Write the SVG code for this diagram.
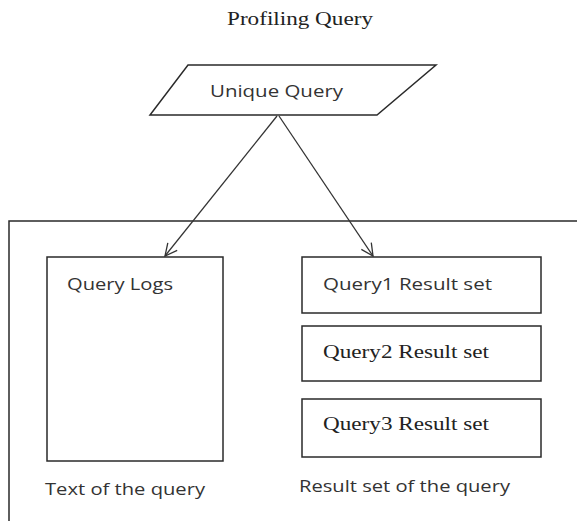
<svg xmlns="http://www.w3.org/2000/svg" width="577" height="521" viewBox="0 0 577 521">
<defs>
<style>
.box{fill:none;stroke:#2a2a2a;stroke-width:1.5}
.sans{font-family:"Open Sans","Liberation Sans",sans-serif;font-size:17px;fill:#333}
.serif{font-family:"Liberation Serif","Times New Roman",serif;font-size:19px;fill:#222}
.conn{fill:none;stroke:#333;stroke-width:1.3}
</style>
<marker id="arr" viewBox="0 0 14 14" refX="13" refY="7" markerWidth="14" markerHeight="14" markerUnits="userSpaceOnUse" orient="auto">
<polyline points="1,1 13,7 1,13" fill="none" stroke="#333" stroke-width="1.3"/>
</marker>
</defs>
<rect width="577" height="521" fill="#fff"/>
<text x="300" y="25" text-anchor="middle" class="serif" font-size="21" textLength="146" lengthAdjust="spacingAndGlyphs">Profiling Query</text>
<g id="container"><path class="box" d="M9,530 V221 H580"/></g>
<g id="unique-query">
<polygon class="box" points="188,65 436,65 377,115 150,115"/>
<text x="210" y="97" class="sans" textLength="133" lengthAdjust="spacingAndGlyphs">Unique Query</text>
</g>
<g id="query-logs">
<rect class="box" x="47" y="257" width="176" height="204"/>
<text x="67" y="290" class="sans" textLength="106" lengthAdjust="spacingAndGlyphs">Query Logs</text>
</g>
<g id="query1">
<rect class="box" x="302" y="257" width="239" height="56"/>
<text x="323" y="290" class="sans" textLength="169" lengthAdjust="spacingAndGlyphs">Query1 Result set</text>
</g>
<g id="query2">
<rect class="box" x="302" y="326" width="239" height="55"/>
<text x="323" y="358" class="serif" textLength="166" lengthAdjust="spacingAndGlyphs">Query2 Result set</text>
</g>
<g id="query3">
<rect class="box" x="302" y="399" width="239" height="58"/>
<text x="323" y="430" class="serif" textLength="166" lengthAdjust="spacingAndGlyphs">Query3 Result set</text>
</g>
<g id="labels">
<text x="45" y="495" class="sans" textLength="160" lengthAdjust="spacingAndGlyphs">Text of the query</text>
<text x="299" y="492" class="sans" textLength="211" lengthAdjust="spacingAndGlyphs">Result set of the query</text>
</g>
<g id="connectors">
<line class="conn" x1="277" y1="116" x2="165" y2="256" marker-end="url(#arr)"/>
<line class="conn" x1="279" y1="116" x2="373" y2="256" marker-end="url(#arr)"/>
</g>
</svg>
